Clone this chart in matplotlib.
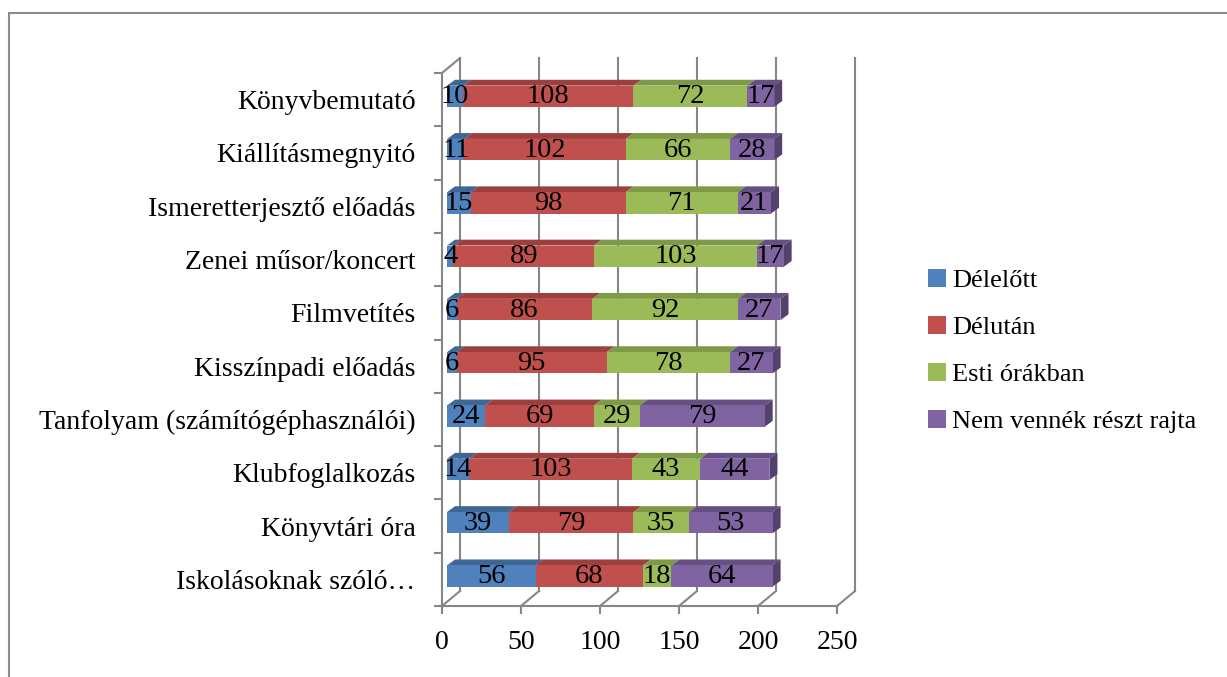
import matplotlib
matplotlib.use("Agg")
import matplotlib.pyplot as plt
from matplotlib.patches import Polygon, Rectangle, Patch

plt.rcParams['font.family'] = ['Liberation Serif', 'DejaVu Serif']

# data (bottom to top, as drawn)
categories = ["Iskolásoknak szóló…", "Könyvtári óra", "Klubfoglalkozás",
              "Tanfolyam (számítógéphasználói)", "Kisszínpadi előadás", "Filmvetítés",
              "Zenei műsor/koncert", "Ismeretterjesztő előadás", "Kiállításmegnyitó",
              "Könyvbemutató"]
series = ["Délelőtt", "Délután", "Esti órákban", "Nem vennék részt rajta"]
delelott = [56, 39, 14, 24, 6, 6, 4, 15, 11, 10]
delutan = [68, 79, 103, 69, 95, 86, 89, 98, 102, 108]
esti = [18, 35, 43, 29, 78, 92, 103, 71, 66, 72]
nem = [64, 53, 44, 79, 27, 27, 17, 21, 28, 17]
values = [delelott, delutan, esti, nem]
colors = ["#4F81BD", "#C0504D", "#9BBB59", "#8064A2"]
tops = ["#3E6796", "#9C3F3D", "#7E9A47", "#664F83"]
sides = ["#345780", "#843533", "#6A823B", "#54416D"]
xticks = [0, 50, 100, 150, 200, 250]

W, H = 1227, 677
fig = plt.figure(figsize=(W / 100, H / 100), dpi=100)
# outer frame
fig.patches.append(Rectangle((9 / W, -0.1), 1.2, (H - 13) / H + 0.1, transform=fig.transFigure,
                             fill=False, edgecolor="#8c8c8c", linewidth=1.5))

ax = fig.add_axes([442 / W, (H - 606) / H, 395 / W, 533 / H])
ax.set_xlim(0, 250)
ax.set_ylim(0, 10)
grid = "#868686"

# 3d depth (in data units)
wdx, wdy = 11.4, 0.281
bdx, bdy = 5.1, 0.11
fx, fy = 3.2, 0.063
bh = 0.40

# back wall / floor lines
for v in xticks:
    ax.plot([v + wdx, v + wdx], [wdy, 10 + wdy], color=grid, lw=1.5, clip_on=False, zorder=1)
    ax.plot([v, v + wdx], [0, wdy], color=grid, lw=1.5, clip_on=False, zorder=1)
ax.plot([0, wdx], [10, 10 + wdy], color=grid, lw=1.5, clip_on=False, zorder=1)

# bars
ypos = [i + 0.5 + fy for i in range(len(categories))]
left = [fx] * len(categories)
for s in range(4):
    vals = values[s]
    ax.barh(ypos, vals, height=bh, left=left, color=colors[s], zorder=3, clip_on=False)
    for i, v in enumerate(vals):
        x0, x1 = left[i], left[i] + v
        yt = ypos[i] + bh / 2
        ax.add_patch(Polygon([(x0, yt), (x1, yt), (x1 + bdx, yt + bdy), (x0 + bdx, yt + bdy)],
                             closed=True, facecolor=tops[s], edgecolor="none", zorder=2.9, clip_on=False))
        if s == 3:
            yb = ypos[i] - bh / 2
            ax.add_patch(Polygon([(x1, yb), (x1 + bdx, yb + bdy), (x1 + bdx, yt + bdy), (x1, yt)],
                                 closed=True, facecolor=sides[s], edgecolor="none", zorder=2.9, clip_on=False))
        ax.text((x0 + x1) / 2, ypos[i] - 0.01, str(v), ha="center", va="center",
                fontsize=20.5, zorder=5, color="black")
    left = [l + v for l, v in zip(left, vals)]

# axes
for sp in ["top", "right"]:
    ax.spines[sp].set_visible(False)
for sp in ["left", "bottom"]:
    ax.spines[sp].set_color(grid)
    ax.spines[sp].set_linewidth(1.5)
ax.set_xticks(xticks)
ax.set_xticklabels([str(t) for t in xticks], fontsize=20)
ax.tick_params(axis="x", length=6, width=1.5, color=grid, pad=11)
ax.set_yticks([i + 0.5 for i in range(len(categories))])
ax.set_yticklabels(categories, fontsize=20)
ax.tick_params(axis="y", which="major", length=0, pad=19)
ax.set_yticks(range(len(categories) + 1), minor=True)
ax.tick_params(axis="y", which="minor", length=6, width=1.5, color=grid)
ax.set_facecolor("none")

handles = [Patch(facecolor=c, edgecolor="none") for c in colors]
fig.legend(handles, series, loc="center left", bbox_to_anchor=(928 / W, 1 - 351 / H),
           frameon=False, fontsize=19, handlelength=0.68, handleheight=0.68,
           handletextpad=0.22, labelspacing=0.9, borderpad=0, borderaxespad=0)

fig.savefig("out.png", dpi=100)
